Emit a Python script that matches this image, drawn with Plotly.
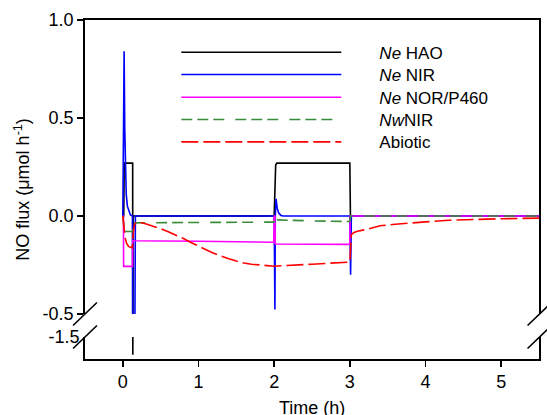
import plotly.graph_objects as go

# ---------------- data ----------------
hao_t = [0, 0.012, 0.018, 0.13, 0.132, 0.136, 2.0, 2.012, 2.02, 2.035, 3.0, 3.008, 5.5]
hao_v = [0, 0, 0.27, 0.27, -1.59, 0, 0, 0.2, 0.26, 0.27, 0.27, 0, 0]

nir_t = [0, 0.008, 0.017, 0.025, 0.035, 0.045, 0.06, 0.08, 0.1, 0.128, 0.13, 0.16, 0.166,
         2.0, 2.01, 2.015, 2.025, 2.04, 2.06, 2.09, 2.12, 3.0, 3.01, 3.02, 5.5]
nir_v = [0, 0.3, 0.84, 0.45, 0.2, 0.11, 0.05, 0.02, 0.005, 0, -0.51, -0.51, 0,
         0, -0.477, 0, 0.088, 0.04, 0.015, 0.003, 0, 0, -0.3, 0, 0]

nor_t = [0, 0.008, 0.01, 0.127, 0.13, 0.16, 1.0, 1.995, 2.0, 2.01, 2.015, 3.0, 3.005, 5.5]
nor_v = [0, 0, -0.257, -0.257, -0.125, -0.126, -0.129, -0.134, 0, 0, -0.143, -0.145, 0, 0]

nw_t = [0, 0.01, 0.02, 0.13, 0.16, 1.0, 2.0, 2.01, 2.05, 2.5, 3.0, 3.01, 5.5]
nw_v = [0, -0.05, -0.079, -0.079, -0.035, -0.033, -0.031, -0.012, -0.02, -0.025, -0.028, 0, 0]

abio_t = [0, 0.01, 0.03, 0.05, 0.075, 0.1, 0.125, 0.135, 0.15, 0.17, 0.2, 0.3, 0.4, 0.5,
          0.6, 0.7, 0.8, 0.9, 1.0, 1.1, 1.2, 1.3, 1.4, 1.5, 1.6, 1.7, 1.8, 1.9, 2.0,
          2.5, 3.0, 3.01, 3.02, 3.05, 3.1, 3.2, 3.4, 3.6, 3.8, 4.0, 4.3, 4.6, 5.0, 5.5]
abio_v = [0, -0.03, -0.11, -0.14, -0.155, -0.16, -0.162, -0.1, -0.05, -0.033, -0.03, -0.04,
          -0.052, -0.065, -0.08, -0.096, -0.115, -0.135, -0.155, -0.172, -0.19, -0.205,
          -0.218, -0.23, -0.24, -0.246, -0.25, -0.254, -0.256,
          -0.246, -0.235, -0.16, -0.095, -0.085, -0.078, -0.07, -0.05, -0.042, -0.035,
          -0.03, -0.022, -0.018, -0.014, -0.011]

names = ["<i>Ne</i> HAO", "<i>Ne</i> NIR", "<i>Ne</i> NOR/P460", "<i>Nw</i>NIR", "Abiotic"]
y_ticks = [-0.5, 0.0, 0.5, 1.0]
y_tick_text = ["-0.5", "0.0", "0.5", "1.0"]
y2_ticks = [-1.5]
y2_tick_text = ["-1.5"]
x_ticks = [0, 1, 2, 3, 4, 5]

# ---------------- styling ----------------
W, H = 547, 415
ML, MR, MT, MB = 85, 6, 20, 56
PW, PH = W - ML - MR, H - MT - MB
FONT = "Liberation Sans, Arial, sans-serif"


def px_x(px):
    return (px - ML) / PW


def px_y(py):
    return (H - MB - py) / PH


colors = ["#000000", "#0000FF", "#FF00FF", "#3A8C3A", "#FF0000"]
dashes = ["solid", "solid", "solid", "11px,5px,11px,5px,11px,11px", "17px,5px"]
series = [(hao_t, hao_v), (nir_t, nir_v), (nor_t, nor_v), (nw_t, nw_v), (abio_t, abio_v)]
legend_ids = ["legend", "legend2", "legend3", "legend4", "legend5"]
legend_rows = [52.7, 75.0, 97.7, 120.0, 142.3]

fig = go.Figure()
pad = "\u00a0" * 7
for i, (t, v) in enumerate(series):
    fig.add_trace(go.Scatter(
        x=t, y=v, mode="lines", name=pad + names[i],
        line=dict(color=colors[i], width=1.6, dash=dashes[i]),
        xaxis="x2", yaxis="y", legend=legend_ids[i], hoverinfo="skip"))

# lower (broken) part of the axis: only the HAO trace reaches it
fig.add_trace(go.Scatter(
    x=hao_t, y=hao_v, mode="lines", showlegend=False,
    line=dict(color=colors[0], width=1.6), xaxis="x", yaxis="y2", hoverinfo="skip"))

top_lo = px_y(314)
bot_hi = px_y(337)

axis_common = dict(showgrid=False, zeroline=False, linecolor="black", linewidth=1.8,
                   tickcolor="black", tickwidth=1.6, ticklen=6,
                   tickfont=dict(family=FONT, size=18, color="black"))

layout = dict(
    width=W, height=H,
    margin=dict(l=ML, r=MR, t=MT, b=MB, pad=0),
    paper_bgcolor="white", plot_bgcolor="white",
    xaxis=dict(domain=[0, 1], range=[-0.5, 5.5], anchor="y2", tickvals=x_ticks,
               ticks="outside", showline=True, **axis_common),
    xaxis2=dict(domain=[0, 1], range=[-0.5, 5.5], anchor="y", matches="x", side="top",
                showticklabels=False, ticks="", showline=True,
                showgrid=False, zeroline=False, linecolor="black", linewidth=1.8),
    yaxis=dict(domain=[top_lo, 1], range=[-0.5, 1.0], anchor="x2", tickvals=y_ticks,
               ticktext=y_tick_text, ticks="outside", showline=True, mirror=True,
               **axis_common),
    yaxis2=dict(domain=[0, bot_hi], range=[-1.612, -1.5], anchor="x", tickvals=y2_ticks,
                ticktext=y2_tick_text, ticks="", showline=True, mirror=True,
                **axis_common),
    showlegend=True,
)
for i, lid in enumerate(legend_ids):
    layout[lid] = dict(x=px_x(176.7), y=px_y(legend_rows[i]), xanchor="left",
                       yanchor="middle", itemwidth=160, bgcolor="rgba(0,0,0,0)",
                       borderwidth=0, font=dict(family=FONT, size=17, color="black"),
                       itemclick=False, itemdoubleclick=False)
fig.update_layout(**layout)

# axis titles
fig.add_annotation(text="NO flux (μmol h<sup>-1</sup>)", xref="paper", yref="paper",
                   x=px_x(22), y=0.5, textangle=-90, showarrow=False,
                   xanchor="center", yanchor="middle",
                   font=dict(family=FONT, size=18, color="black"))
fig.add_annotation(text="Time (h)", xref="paper", yref="paper",
                   x=0.5, y=px_y(408), showarrow=False,
                   xanchor="center", yanchor="middle",
                   font=dict(family=FONT, size=18, color="black"))

# axis break marks
for cx in (85, 541.5):
    for cy in (314, 337):
        fig.add_shape(type="line", xref="paper", yref="paper",
                      x0=px_x(cx - 12), y0=px_y(cy + 11.5),
                      x1=px_x(cx + 12), y1=px_y(cy - 11.5),
                      line=dict(color="black", width=1.6))

# remove the browser's default body margin so the figure sits at the page origin
fig.write_html("out.html", config={"displayModeBar": False, "staticPlot": True},
               post_script="document.body.style.margin='0';")
